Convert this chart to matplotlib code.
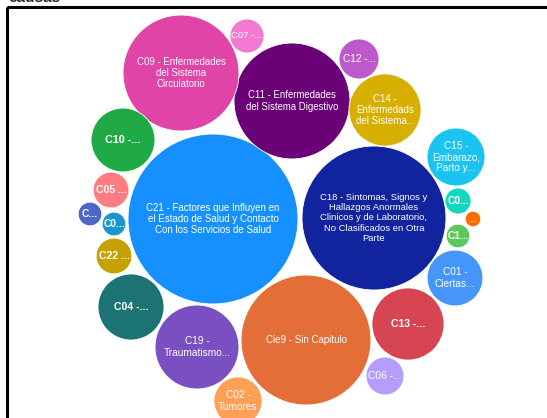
import numpy as np
import matplotlib
matplotlib.use("Agg")
import matplotlib.pyplot as plt
from matplotlib.patches import Circle, Rectangle

plt.rcParams['font.family'] = ['Liberation Sans', 'DejaVu Sans']

# bubble labels, values (counts, read as relative bubble areas) and colours
labels = [
    "C21 - Factores que Influyen en\nel Estado de Salud y Contacto\nCon los Servicios de Salud",
    "C18 - Sintomas, Signos y\nHallazgos Anormales\nClinicos y de Laboratorio,\nNo Clasificados en Otra\nParte",
    "Cie9 - Sin Capitulo",
    "C11 - Enfermedades\ndel Sistema Digestivo",
    "C09 - Enfermedades\ndel Sistema\nCirculatorio",
    "C19 -\nTraumatismo...",
    "C14 -\nEnfermedads\ndel Sistema...",
    "C13 -...",
    "C04 -...",
    "C10 -...",
    "C15 -\nEmbarazo,\nParto y...",
    "C01 -\nCiertas...",
    "C02 -\nTumores",
    "C12 -...",
    "C06 -...",
    "C05 ...",
    "C22 ...",
    "C07 -...",
    "C0...",
    "C1...",
    "C...",
    "C0...",
    "...",
]
values = [722, 518, 422, 336, 336, 176, 130, 130, 109, 102, 84, 78, 58,
          40, 36, 32, 32, 29, 17, 14, 14, 14, 6]
colors = ["#1790FF", "#12239E", "#E46E38", "#6B0177", "#DF44A6", "#7A4FC1",
          "#D7AF00", "#D84552", "#1C7373", "#1FAA45", "#1AC3F0", "#4695F9",
          "#FFA056", "#BD5ACB", "#B49DFE", "#FF7C80", "#C7A100", "#F27BD1",
          "#14D8BE", "#5CC85B", "#4D67C8", "#1996CC", "#FF6A00"]

# packed layout (pixel centres)
cx = [213, 374, 306, 292, 181, 197, 385, 408, 131, 123, 456, 455, 238,
      359, 385, 111, 114, 247, 458, 458, 90, 114, 473]
cy = [219, 218, 340, 101, 73, 347, 110, 324, 307, 140, 157, 278, 401,
      59, 376, 190, 256, 36, 201, 236, 214, 224, 219]
fsizes = [7.0, 6.8, 7.0, 6.9, 6.9, 7.3, 7.0, 7.6, 7.6, 7.8, 7.2, 7.3, 7.3,
          7.2, 7.4, 7.6, 7.6, 6.8, 7.4, 7.4, 7.4, 7.4, 6.5]
bold = [False, False, False, False, False, False, False, True, True, True,
        False, False, False, False, False, True, True, False, True, True,
        True, True, False]

fig = plt.figure(figsize=(5.47, 4.18), dpi=100)
ax = fig.add_axes([0, 0, 1, 1])
ax.set_xlim(0, 547)
ax.set_ylim(418, 0)
ax.set_aspect('equal')
ax.axis('off')

scale = np.sqrt(10.0)
for i in range(len(values)):
    r = scale * np.sqrt(values[i])
    ax.add_patch(Circle((cx[i], cy[i]), r, facecolor=colors[i],
                        edgecolor='white', linewidth=0.6))
    ax.text(cx[i], cy[i], labels[i], color='white', ha='center', va='center',
            fontsize=fsizes[i], fontweight='bold' if bold[i] else 'normal',
            linespacing=1.15)

ax.add_patch(Rectangle((7, 7), 700, 600, fill=False, edgecolor='black',
                       linewidth=2.2))
ax.text(8, 2.5, "causas", fontsize=11, fontweight='bold', color='#222222',
        ha='left', va='baseline')

fig.savefig("out.png", dpi=100)
